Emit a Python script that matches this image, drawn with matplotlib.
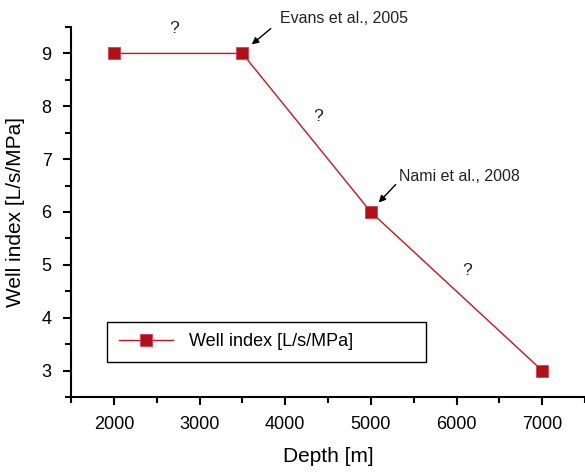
import matplotlib.pyplot as plt
from matplotlib.ticker import MultipleLocator

plt.rcParams['font.family'] = ['Liberation Sans', 'DejaVu Sans']

# Data
depth = [2000, 3500, 5000, 7000]
well_index = [9, 9, 6, 3]
series_label = "Well index [L/s/MPa]"

# question marks between points
q_x = [2700, 4380, 6120]
q_y = [9.47, 7.8, 4.9]

red = "#c8141e"
dark_red = "#b0101a"

fig = plt.figure(figsize=(5.85, 4.72), dpi=100)
ax = fig.add_axes([71/585, 1 - 397/472, 1 - 71/585, (397 - 27)/472])

ax.plot(depth, well_index, '-', color=red, linewidth=1.0,
        marker='s', markersize=8, markerfacecolor=dark_red,
        markeredgecolor="#d84050", markeredgewidth=0.6,
        label=series_label, clip_on=False, zorder=3)

for x, y in zip(q_x, q_y):
    ax.text(x, y, "?", fontsize=12.5, ha='center', va='center', color="#222222")

# Annotations: text and short arrows drawn separately
arrow = dict(arrowstyle='-|>', color='black', lw=1.0,
             mutation_scale=10, shrinkA=0, shrinkB=0)
ax.text(3937, 9.57, "Evans et al., 2005", fontsize=11.5, ha='left',
        va='baseline', color="#222222", clip_on=False)
ax.annotate("", xy=(3610, 9.17), xytext=(3832, 9.47),
            annotation_clip=False, arrowprops=arrow)
ax.text(5326, 6.58, "Nami et al., 2008", fontsize=11.5, ha='left',
        va='baseline', color="#222222")
ax.annotate("", xy=(5092, 6.18), xytext=(5290, 6.52), arrowprops=arrow)

ax.set_xlim(1500, 7500)
ax.set_ylim(2.5, 9.5)
ax.xaxis.set_major_locator(MultipleLocator(1000))
ax.xaxis.set_minor_locator(MultipleLocator(500))
ax.yaxis.set_major_locator(MultipleLocator(1))
ax.yaxis.set_minor_locator(MultipleLocator(0.5))

ax.spines['top'].set_visible(False)
ax.spines['right'].set_visible(False)
ax.spines['left'].set_linewidth(1.5)
ax.spines['bottom'].set_linewidth(1.5)
ax.tick_params(which='major', direction='out', length=6, width=1.5, labelsize=13, pad=8)
ax.tick_params(which='minor', direction='out', length=4, width=1.5)

ax.set_xlabel("Depth [m]", fontsize=15, labelpad=10)
ax.set_ylabel("Well index [L/s/MPa]", fontsize=15, labelpad=12)

leg = ax.legend(loc='lower left', bbox_to_anchor=(36/514, 35/370, 319/514, 39/370),
                mode='expand', fontsize=13, handlelength=3.0, handletextpad=0.9,
                borderpad=0.65, borderaxespad=0, fancybox=False, framealpha=1,
                edgecolor='black')
leg.get_frame().set_linewidth(1.0)

fig.savefig("out.png", dpi=100)
